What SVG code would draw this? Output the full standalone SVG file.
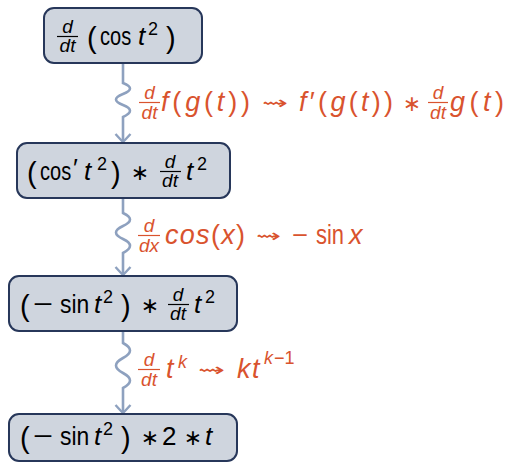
<svg xmlns="http://www.w3.org/2000/svg" width="507" height="463" viewBox="0 0 507 463">
<style>
text{font-family:"Liberation Sans","DejaVu Sans",sans-serif;font-size:26px;fill:#000}
.i{font-style:italic}
.n{font-style:normal}
.s{font-size:19px}
.u{font-size:18px}
.p{font-size:29px}
.L{font-size:27px}
.o{font-family:"DejaVu Sans",sans-serif;font-size:22px}
.w{font-family:"DejaVu Sans",sans-serif;font-size:18px}
.r{fill:#d9532e}
.box{fill:#cfd5de;stroke:#27375a;stroke-width:2}
.bar{stroke:#000;stroke-width:1.2}
.rbar{stroke:#d9532e;stroke-width:1.2}
.conn{fill:none;stroke:#8ea1bf;stroke-width:2.6}
</style>
<defs>
<marker id="ah" markerUnits="userSpaceOnUse" viewBox="-10 -10 12 20" refX="0" refY="0" markerWidth="12" markerHeight="20" orient="auto" overflow="visible">
<path d="M-8,-7.5 Q-2.5,-2.5 0,0 Q-2.5,2.5 -8,7.5" fill="none" stroke="#8ea1bf" stroke-width="2.4"/>
</marker>
</defs>
<g id="connectors">
<path class="conn" marker-end="url(#ah)" d="M123,63 V83 Q137,88.5 123,94 Q109,99.5 123,105 Q137,110.5 123,117 V142"/>
<path class="conn" marker-end="url(#ah)" d="M123,198 V213 Q137,219.5 123,226 Q109,232.5 123,239 Q137,245.5 123,253 V275"/>
<path class="conn" marker-end="url(#ah)" d="M123,331 V343 Q137,350.5 123,358 Q109,365.5 123,373 Q137,380.5 123,388 V413"/>
</g>
<g id="label1">
<text class="s i r" x="149.5" y="99" text-anchor="middle">d</text>
<line class="rbar" x1="139" y1="102.5" x2="160" y2="102.5"/>
<text class="s i r" x="149.5" y="119" text-anchor="middle">dt</text>
<text class="L r" x="161" y="111" textLength="89" lengthAdjust="spacing"><tspan class="i">f</tspan>(<tspan class="i">g</tspan>(<tspan class="i">t</tspan>))</text>
<text class="w r" x="262" y="109" textLength="26" lengthAdjust="spacingAndGlyphs">⇝</text>
<text class="L r" x="299" y="111" textLength="94" lengthAdjust="spacing"><tspan class="i">f</tspan>′(<tspan class="i">g</tspan>(<tspan class="i">t</tspan>))</text>
<text class="o r" x="412" y="111" text-anchor="middle">∗</text>
<text class="s i r" x="438" y="99" text-anchor="middle">d</text>
<line class="rbar" x1="428" y1="102.5" x2="448" y2="102.5"/>
<text class="s i r" x="438" y="119" text-anchor="middle">dt</text>
<text class="L r" x="450" y="111" textLength="54" lengthAdjust="spacing"><tspan class="i">g</tspan>(<tspan class="i">t</tspan>)</text>
</g>
<g id="label2">
<text class="s i r" x="149" y="232" text-anchor="middle">d</text>
<line class="rbar" x1="138" y1="235.5" x2="160" y2="235.5"/>
<text class="s i r" x="149" y="252" text-anchor="middle">dx</text>
<text class="L r" x="165" y="244" textLength="80" lengthAdjust="spacing"><tspan class="i">cos</tspan>(<tspan class="i">x</tspan>)</text>
<text class="w r" x="256" y="242" textLength="25" lengthAdjust="spacingAndGlyphs">⇝</text>
<text class="r" x="292" y="244" textLength="16" lengthAdjust="spacingAndGlyphs">−</text>
<text class="L r" x="316" y="244" textLength="28" lengthAdjust="spacingAndGlyphs">sin</text>
<text class="L i r" x="349" y="244">x</text>
</g>
<g id="label3">
<text class="s i r" x="149" y="366" text-anchor="middle">d</text>
<line class="rbar" x1="138" y1="369.5" x2="160" y2="369.5"/>
<text class="s i r" x="149" y="386" text-anchor="middle">dt</text>
<text class="L i r" x="166" y="378">t<tspan class="u" x="178" y="368">k</tspan></text>
<text class="w r" x="198" y="376" textLength="27" lengthAdjust="spacingAndGlyphs">⇝</text>
<text class="L i r" x="237" y="378">k<tspan x="252">t</tspan><tspan class="u" x="264" y="364">k</tspan><tspan class="u n" x="274" y="364">−1</tspan></text>
</g>
<g id="node1">
<rect class="box" x="44" y="8" width="158" height="55" rx="10"/>
<text class="s i" x="67.5" y="33" text-anchor="middle">d</text>
<line class="bar" x1="57" y1="36.5" x2="78" y2="36.5"/>
<text class="s i" x="67.5" y="52" text-anchor="middle">dt</text>
<text class="p" x="87" y="48">(</text>
<text transform="translate(100,45) scale(0.77,1)">cos</text>
<text class="i" x="138" y="45">t<tspan class="u n" x="148" y="35">2</tspan></text>
<text class="p" x="166" y="48">)</text>
</g>
<g id="node2">
<rect class="box" x="17" y="143" width="213" height="55" rx="10"/>
<text class="p" x="27" y="183">(</text>
<text transform="translate(40,180) scale(0.77,1)">cos</text>
<text x="73" y="177" font-size="22">′<tspan class="i" font-size="26" x="84" y="180">t</tspan><tspan class="u" x="97" y="170">2</tspan></text>
<text class="p" x="111" y="183">)</text>
<text class="o" x="140" y="180" text-anchor="middle">∗</text>
<text class="s i" x="170" y="168" text-anchor="middle">d</text>
<line class="bar" x1="160" y1="171.5" x2="181" y2="171.5"/>
<text class="s i" x="170" y="187" text-anchor="middle">dt</text>
<text class="i" x="186" y="180">t<tspan class="u n" x="197" y="170">2</tspan></text>
</g>
<g id="node3">
<rect class="box" x="9" y="276" width="228" height="55" rx="10"/>
<text class="p" x="20" y="316">(</text>
<text x="33" y="313" textLength="20" lengthAdjust="spacingAndGlyphs">−</text>
<text transform="translate(60,313) scale(0.88,1)">sin</text>
<text class="i" x="94" y="313">t<tspan class="u n" x="103" y="303">2</tspan></text>
<text class="p" x="121" y="316">)</text>
<text class="o" x="150" y="313" text-anchor="middle">∗</text>
<text class="s i" x="178" y="301" text-anchor="middle">d</text>
<line class="bar" x1="168" y1="304.5" x2="189" y2="304.5"/>
<text class="s i" x="178" y="320" text-anchor="middle">dt</text>
<text class="i" x="194" y="313">t<tspan class="u n" x="205" y="303">2</tspan></text>
</g>
<g id="node4">
<rect class="box" x="9" y="414" width="228" height="47" rx="10"/>
<text class="p" x="20" y="448">(</text>
<text x="33" y="445" textLength="20" lengthAdjust="spacingAndGlyphs">−</text>
<text transform="translate(60,445) scale(0.88,1)">sin</text>
<text class="i" x="94" y="445">t<tspan class="u n" x="103" y="435">2</tspan></text>
<text class="p" x="121" y="448">)</text>
<text class="o" x="150" y="445" text-anchor="middle">∗</text>
<text x="162" y="445">2</text>
<text class="o" x="193" y="445" text-anchor="middle">∗</text>
<text class="i" x="205" y="445">t</text>
</g>
</svg>
